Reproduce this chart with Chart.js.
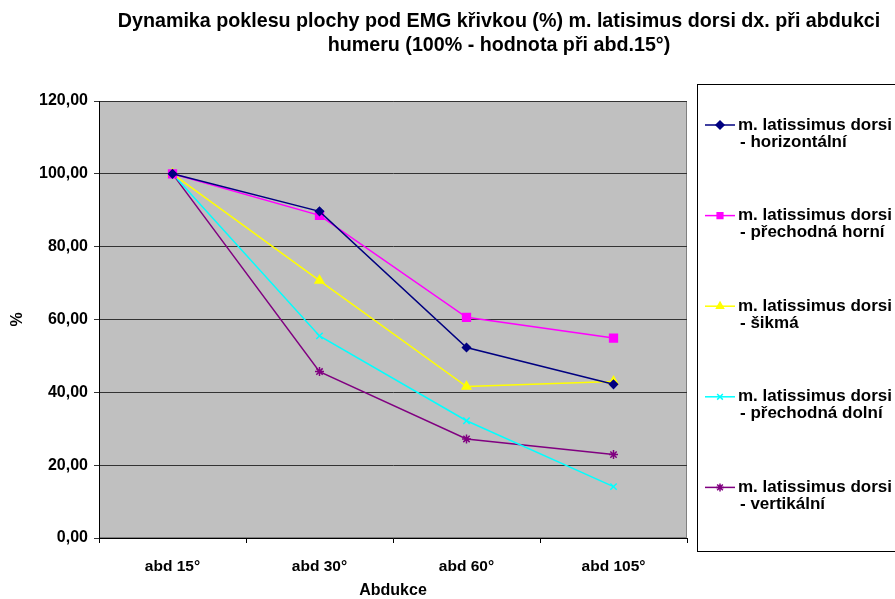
<!DOCTYPE html>
<html>
<head>
<meta charset="utf-8">
<script src="https://cdn.jsdelivr.net/npm/chart.js@4/dist/chart.umd.min.js"></script>
<style>
html,body{margin:0;padding:0;background:#fff;}
#wrap{position:relative;width:895px;height:599px;}
</style>
</head>
<body>
<div id="wrap"><canvas id="c" width="895" height="599"></canvas></div>
<script>
const titleLines = ['Dynamika poklesu plochy pod EMG křivkou (%) m. latisimus dorsi dx. při abdukci', 'humeru (100% - hodnota při abd.15°)'];
const categories = ['abd 15°', 'abd 30°', 'abd 60°', 'abd 105°'];
const yTicks = [0, 20, 40, 60, 80, 100, 120];
const seriesNames = [
  ['m. latissimus dorsi', '- horizontální'],
  ['m. latissimus dorsi', '- přechodná horní'],
  ['m. latissimus dorsi', '- šikmá'],
  ['m. latissimus dorsi', '- přechodná dolní'],
  ['m. latissimus dorsi', '- vertikální']
];
const horizontalni = [100, 89.7, 52.3, 42.2];
const prechodnaHorni = [100, 88.6, 60.6, 54.9];
const sikma = [100, 70.7, 41.6, 43.0];
const prechodnaDolni = [100, 55.5, 32.2, 14.1];
const vertikalni = [100, 45.7, 27.2, 22.9];

const FONT = "'Liberation Sans', Arial, sans-serif";
const colors = ['#000080', '#FF00FF', '#FFFF00', '#00FFFF', '#800080'];
const styles = ['rectRot', 'rect', 'triangle', 'crossRot', 'star'];
const radii = [4, 5.5, 5, 4.5, 4.5];
const values = [horizontalni, prechodnaHorni, sikma, prechodnaDolni, vertikalni];

const datasets = values.map((v, i) => ({
  label: seriesNames[i].join(' '),
  data: v,
  borderColor: colors[i],
  backgroundColor: colors[i],
  borderWidth: 1.5,
  pointStyle: styles[i],
  pointRadius: radii[i],
  pointHoverRadius: radii[i],
  pointBorderWidth: 1.5,
  tension: 0,
  fill: false
}));

const bgPlugin = {
  id: 'bg',
  beforeDraw(chart) {
    const {ctx, chartArea: a} = chart;
    ctx.save();
    ctx.fillStyle = '#C0C0C0';
    ctx.fillRect(a.left, a.top, a.right - a.left, a.bottom - a.top);
    ctx.strokeStyle = '#808080';
    ctx.lineWidth = 1;
    ctx.strokeRect(a.left + 0.5, a.top + 0.5, a.right - a.left - 1, a.bottom - a.top - 1);
    ctx.restore();
  }
};

const titlePlugin = {
  id: 'ttl',
  afterDraw(chart) {
    const ctx = chart.ctx;
    ctx.save();
    ctx.fillStyle = '#000';
    ctx.font = 'bold 19.7px ' + FONT;
    ctx.textAlign = 'center';
    ctx.textBaseline = 'middle';
    ctx.fillText(titleLines[0], 499, 22);
    ctx.fillText(titleLines[1], 499, 46);
    ctx.restore();
  }
};

const legendPlugin = {
  id: 'lgd',
  afterDraw(chart) {
    const ctx = chart.ctx;
    ctx.save();
    ctx.strokeStyle = '#000';
    ctx.lineWidth = 1;
    ctx.strokeRect(697.5, 84.5, 210, 467);
    ctx.font = 'bold 17px ' + FONT;
    ctx.textBaseline = 'middle';
    ctx.textAlign = 'left';
    chart.data.datasets.forEach((ds, i) => {
      const y = 125 + i * 90.6;
      ctx.strokeStyle = ds.borderColor;
      ctx.lineWidth = 1.5;
      ctx.beginPath();
      ctx.moveTo(705, y);
      ctx.lineTo(735, y);
      ctx.stroke();
      const r = Math.min(ds.pointRadius, 4);
      ctx.fillStyle = ds.borderColor;
      Chart.helpers.drawPoint(ctx, {pointStyle: ds.pointStyle, radius: r, borderWidth: 1.5}, 720, y);
      ctx.fillStyle = '#000';
      ctx.fillText(seriesNames[i][0], 738, y);
      ctx.fillText(seriesNames[i][1], 740, y + 17);
    });
    ctx.restore();
  }
};

new Chart(document.getElementById('c'), {
  type: 'line',
  data: {labels: categories, datasets},
  plugins: [bgPlugin, titlePlugin, legendPlugin],
  options: {
    responsive: false,
    animation: false,
    devicePixelRatio: 1,
    layout: {padding: {left: 0, right: 208, top: 101, bottom: 0}},
    plugins: {legend: {display: false}, title: {display: false}, tooltip: {enabled: false}},
    scales: {
      x: {
        offset: true,
        afterFit(s) { s.height = 61; },
        grid: {offset: true, drawOnChartArea: false, drawTicks: true, tickLength: 5, color: '#000'},
        border: {color: '#000', width: 1},
        ticks: {color: '#000', font: {family: FONT, weight: 'bold', size: 15.5}, padding: 14, maxRotation: 0},
        title: {display: true, text: 'Abdukce', color: '#000', font: {family: FONT, weight: 'bold', size: 16, lineHeight: 1}, padding: {top: 0, bottom: 0}}
      },
      y: {
        min: 0, max: 120,
        afterFit(s) { s.width = 99; },
        afterBuildTicks(s) { s.ticks = yTicks.map(v => ({value: v})); },
        grid: {color: '#333', lineWidth: 1, tickLength: 5, drawTicks: true},
        border: {color: '#000', width: 1},
        ticks: {color: '#000', font: {family: FONT, weight: 'bold', size: 16}, padding: 6,
          callback: v => v.toFixed(2).replace('.', ',')},
        title: {display: true, text: '%', color: '#000', font: {family: FONT, weight: 'bold', size: 16}, padding: {top: 8, bottom: 0}}
      }
    }
  }
});
</script>
</body>
</html>
